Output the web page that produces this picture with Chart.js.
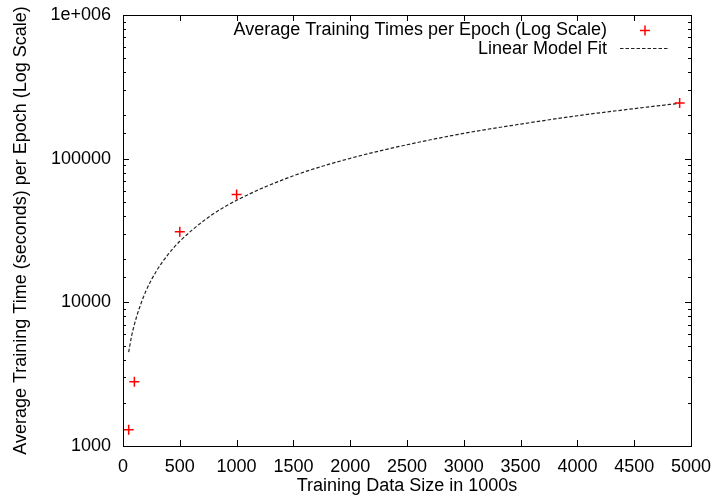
<!DOCTYPE html>
<html>
<head>
<meta charset="utf-8">
<script src="https://cdn.jsdelivr.net/npm/chart.js@4/dist/chart.umd.min.js"></script>
<style>
  html, body { margin: 0; padding: 0; background: #fff; }
  #wrap { width: 714px; height: 502px; }
</style>
</head>
<body>
<div id="wrap"><canvas id="c" width="714" height="502"></canvas></div>
<script>
// ---- Data ----
const dataSizes = [50, 100, 500, 1000, 4900];             // training data size (1000s)
const dataTimes = [1300, 2800, 31000, 56400, 244000];     // avg seconds per epoch
const fitSizes = [50, 75, 100, 125, 150, 200, 300, 400, 500, 750, 1000, 1500, 2000, 2500, 3000, 3500, 4000, 4500, 4900];
const fitTimes = [4500, 5800, 7000, 8200, 9400, 11900, 16800, 21700, 26600, 39000, 51300, 76000, 100500, 125000, 150000, 174000, 199000, 223000, 243000];
const yTickValues = [1000, 10000, 100000, 1000000];
const yTickLabels = ['1000', '10000', '100000', '1e+006'];
const seriesLabels = ['Average Training Times per Epoch (Log Scale)', 'Linear Model Fit'];
const xTitle = 'Training Data Size in 1000s';
const yTitle = 'Average Training Time (seconds) per Epoch (Log Scale)';

const FONT = '"Liberation Sans", Arial, Helvetica, sans-serif';
const FSIZE = 18;
Chart.defaults.color = '#000';
Chart.defaults.font.family = FONT;
Chart.defaults.font.size = FSIZE;

const frame = {
  id: 'frame',
  afterDatasetsDraw(chart) {
    const ctx = chart.ctx, a = chart.chartArea;
    const xs = chart.scales.x, ys = chart.scales.y;
    ctx.save();
    ctx.strokeStyle = '#000';
    ctx.lineWidth = 1;
    ctx.beginPath();
    xs.ticks.forEach(t => {
      const px = Math.round(xs.getPixelForValue(t.value)) + 0.5;
      ctx.moveTo(px, a.bottom); ctx.lineTo(px, a.bottom - 6);
      ctx.moveTo(px, a.top); ctx.lineTo(px, a.top + 6);
    });
    ys.ticks.forEach(t => {
      const lg = Math.log10(t.value);
      const major = Math.abs(lg - Math.round(lg)) < 1e-9;
      const len = major ? 6 : 3;
      const py = Math.round(ys.getPixelForValue(t.value)) + 0.5;
      ctx.moveTo(a.left, py); ctx.lineTo(a.left + len, py);
      ctx.moveTo(a.right, py); ctx.lineTo(a.right - len, py);
    });
    ctx.stroke();
    ctx.strokeRect(Math.round(a.left) + 0.5, Math.round(a.top) + 0.5,
                   Math.round(a.right - a.left), Math.round(a.bottom - a.top));

    // legend (gnuplot style, top right, text right-aligned, sample on right)
    ctx.font = FSIZE + 'px ' + FONT;
    ctx.fillStyle = '#000';
    ctx.textAlign = 'right';
    ctx.textBaseline = 'middle';
    const textRight = 607, row1 = 30.5, row2 = 49;
    ctx.fillText(seriesLabels[0], textRight, row1);
    ctx.fillText(seriesLabels[1], textRight, row2);
    ctx.strokeStyle = '#ff0000';
    ctx.lineWidth = 1.5;
    ctx.beginPath();
    ctx.moveTo(645 - 5, row1); ctx.lineTo(645 + 5, row1);
    ctx.moveTo(645, row1 - 5); ctx.lineTo(645, row1 + 5);
    ctx.stroke();
    ctx.strokeStyle = '#222';
    ctx.lineWidth = 1;
    ctx.setLineDash([3.5, 2]);
    ctx.beginPath();
    ctx.moveTo(620, row2 - 0.5); ctx.lineTo(669, row2 - 0.5);
    ctx.stroke();
    ctx.restore();
  }
};

new Chart(document.getElementById('c'), {
  type: 'line',
  data: {
    datasets: [
      {
        label: seriesLabels[0],
        data: dataSizes.map((x, i) => ({ x, y: dataTimes[i] })),
        showLine: false,
        pointStyle: 'cross',
        pointRadius: 5,
        pointBorderWidth: 1.5,
        borderColor: '#ff0000',
        backgroundColor: '#ff0000',
        order: 0
      },
      {
        label: seriesLabels[1],
        data: fitSizes.map((x, i) => ({ x, y: fitTimes[i] })),
        borderColor: '#222',
        borderWidth: 1.2,
        borderDash: [3.5, 2],
        pointRadius: 0,
        cubicInterpolationMode: 'monotone',
        fill: false,
        order: 1
      }
    ]
  },
  options: {
    responsive: false,
    animation: false,
    layout: { padding: { left: 0, right: 23, top: 15, bottom: 0 } },
    plugins: { legend: { display: false }, tooltip: { enabled: false } },
    scales: {
      x: {
        type: 'linear',
        min: 0, max: 5000,
        grid: { display: false, drawTicks: false },
        border: { display: false },
        ticks: { stepSize: 500, padding: 10, maxRotation: 0, callback: v => String(v) },
        title: { display: true, text: xTitle, padding: { top: 0, bottom: 5 } },
        afterFit(s) { s.height = 56; s.paddingLeft = 0; s.paddingRight = 0; }
      },
      y: {
        type: 'logarithmic',
        min: 1000, max: 1000000,
        grid: { display: false, drawTicks: false },
        border: { display: false },
        ticks: {
          padding: 12,
          autoSkip: false,
          callback: v => {
            const i = yTickValues.indexOf(v);
            return i >= 0 ? yTickLabels[i] : '';
          }
        },
        title: { display: true, text: yTitle, padding: { top: 10, bottom: 0 } },
        afterFit(s) { s.width = 123; s.paddingTop = 0; s.paddingBottom = 0; }
      }
    }
  },
  plugins: [frame]
});
</script>
</body>
</html>
